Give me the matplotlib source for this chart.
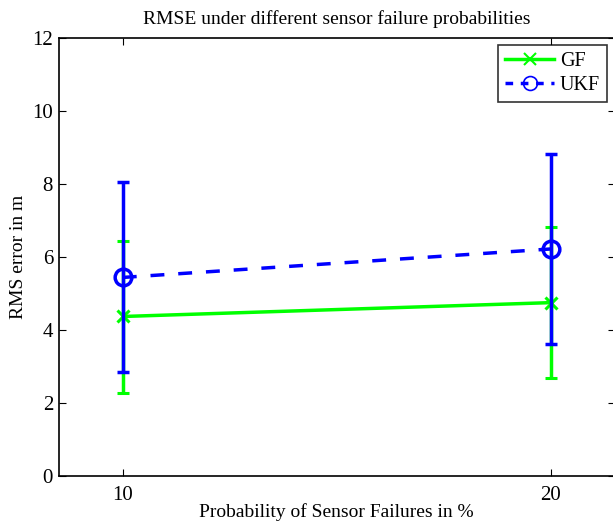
import matplotlib
matplotlib.use("Agg")
import matplotlib.pyplot as plt
from matplotlib.lines import Line2D

x = [10, 20]
gf_mean = [4.37, 4.75]
gf_low = [2.28, 2.69]
gf_high = [6.44, 6.81]
ukf_mean = [5.44, 6.22]
ukf_low = [2.84, 3.62]
ukf_high = [8.06, 8.81]
xticks = [10, 20]
yticks = [0, 2, 4, 6, 8, 10, 12]

plt.rcParams['font.family'] = ['Liberation Serif', 'DejaVu Serif']
fig = plt.figure(figsize=(6.13, 5.21), dpi=100)
ax = fig.add_axes([58.6/613, 45/521, (615-58.6)/613, (476-38)/521])

gf_err = [[m - l for m, l in zip(gf_mean, gf_low)], [h - m for m, h in zip(gf_mean, gf_high)]]
ukf_err = [[m - l for m, l in zip(ukf_mean, ukf_low)], [h - m for m, h in zip(ukf_mean, ukf_high)]]

ax.errorbar(x, gf_mean, yerr=gf_err, color='#00ff00', linestyle='-', linewidth=2.5,
            marker='x', markersize=9, markeredgewidth=2.2, capsize=4, capthick=2.5,
            elinewidth=2.5, zorder=2)
ax.errorbar(x, ukf_mean, yerr=ukf_err, color='#0000ff', linestyle='--', linewidth=2.5,
            dashes=(4, 4), marker='o', markersize=12, markerfacecolor='none',
            markeredgewidth=2.5, capsize=4, capthick=2.5, elinewidth=2.5,
            zorder=3)

ax.set_xlim(8.5, 21.5)
ax.set_ylim(0, 12)
ax.set_xticks(xticks)
ax.set_yticks(yticks)
ax.tick_params(direction='in', top=True, right=True, labelsize=15, length=5, width=0.8)
ax.tick_params(axis='x', pad=7)
ax.tick_params(axis='y', pad=4)
for s in ax.spines.values():
    s.set_linewidth(1.2)
ax.set_title('RMSE under different sensor failure probabilities', fontsize=14, pad=10)
ax.set_xlabel('Probability of Sensor Failures in %', fontsize=14, labelpad=-1)
ax.set_ylabel('RMS error in m', fontsize=14, labelpad=4)

handles = [
    Line2D([], [], color='#00ff00', linestyle='-', linewidth=2.5, marker='x',
           markersize=9, markeredgewidth=1.5),
    Line2D([], [], color='#0000ff', linestyle='--', dashes=(2.2, 2.2), linewidth=2.5,
           marker='o', markersize=10, markerfacecolor='none', markeredgewidth=1.2),
]
leg = fig.legend(handles, ['GF', 'UKF'], loc='upper right',
                 bbox_to_anchor=(607/613, 1 - 45/521), fontsize=14.5, frameon=True,
                 fancybox=False, edgecolor='black', handlelength=2.4,
                 borderpad=0.35, labelspacing=0.25, handletextpad=0.3, borderaxespad=0)
leg.get_frame().set_linewidth(1.2)

fig.savefig('out.png', dpi=100)
